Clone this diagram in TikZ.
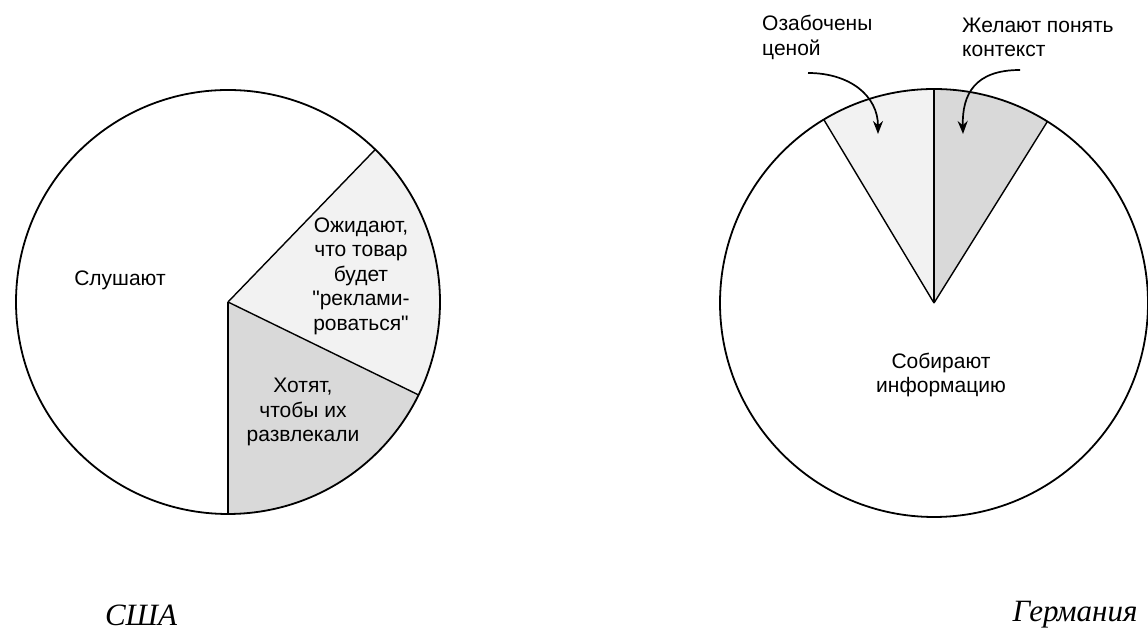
\documentclass[tikz,border=0pt]{standalone}
\usepackage{fontspec}
\setmainfont{Liberation Sans}
\newfontfamily\PlainSans{Liberation Sans}
\newfontfamily\TitleFont{Liberation Serif}
\usetikzlibrary{arrows.meta}

\providecommand{\LeftR}{212}
\providecommand{\RightR}{214}
\providecommand{\Quote}{{\PlainSans"}}
\definecolor{sliceLight}{gray}{0.95}
\definecolor{sliceDark}{gray}{0.85}

\tikzset{
    pielabel/.style={inner sep=0pt, align=center, font=\fontsize{21}{24.5}\selectfont},
    sidelabel/.style={inner sep=0pt, align=left, anchor=west, font=\fontsize{21}{24.5}\selectfont},
    countrylabel/.style={inner sep=0pt, font=\TitleFont\itshape\fontsize{31}{36}\selectfont},
    piearrow/.style={line width=1.7pt, -{Stealth[length=13pt,width=10pt]}}
}

\begin{document}
\begin{tikzpicture}[x=1pt,y=1pt]

\useasboundingbox (0,0) rectangle (1148,644);
\fill[white] (0,0) rectangle (1148,644);

% =====================================================
% LEFT PIE (USA)
% =====================================================
\coordinate (usa) at (228,342);

\fill[sliceLight] (usa) -- ++(-26:\LeftR) arc[start angle=-26, end angle=46, radius=\LeftR] -- cycle;
\fill[sliceDark] (usa) -- ++(-90:\LeftR) arc[start angle=-90, end angle=-26, radius=\LeftR] -- cycle;

\draw[line width=1.8pt] (usa) circle (\LeftR);
\draw[line width=1.4pt] (usa) -- ++(46:\LeftR);
\draw[line width=1.4pt] (usa) -- ++(-26:\LeftR);
\draw[line width=1.4pt] (usa) -- ++(-90:\LeftR);

\node[pielabel] (listen) at (120,364) {Слушают};
\node[pielabel] (advert) at (361,368) {Ожидают,\\что товар\\будет\\\Quote реклами-\\роваться\Quote};
\node[pielabel] (amuse) at (303,232) {Хотят,\\чтобы их\\развлекали};

\node[countrylabel] (usatitle) at (141,29) {США};

% =====================================================
% RIGHT PIE (GERMANY)
% =====================================================
\coordinate (ger) at (934,341);

\fill[sliceLight] (ger) -- ++(90:\RightR) arc[start angle=90, end angle=121, radius=\RightR] -- cycle;
\fill[sliceDark] (ger) -- ++(58:\RightR) arc[start angle=58, end angle=90, radius=\RightR] -- cycle;

\draw[line width=1.8pt] (ger) circle (\RightR);
\draw[line width=1.4pt] (ger) -- ++(121:\RightR);
\draw[line width=1.4pt] (ger) -- ++(90:\RightR);
\draw[line width=1.4pt] (ger) -- ++(58:\RightR);

\node[pielabel] (collect) at (941,269) {Собирают\\информацию};

\node[sidelabel] (price) at (762,606.5) {Озабочены\\ценой};
\node[sidelabel] (context) at (962,606.5) {Желают понять\\контекст};

% arrows from the labels into the slices
\coordinate (priceStart) at (808,571);
\coordinate (priceTip) at (878,510);
\coordinate (contextStart) at (1020,574);
\coordinate (contextTip) at (963,510);

\draw[piearrow] (priceStart) .. controls (850,571) and (878,548) .. (priceTip);
\draw[piearrow] (contextStart) .. controls (975,574) and (962,550) .. (contextTip);

\node[countrylabel] (gertitle) at (1075,29) {Германия};

\end{tikzpicture}
\end{document}
